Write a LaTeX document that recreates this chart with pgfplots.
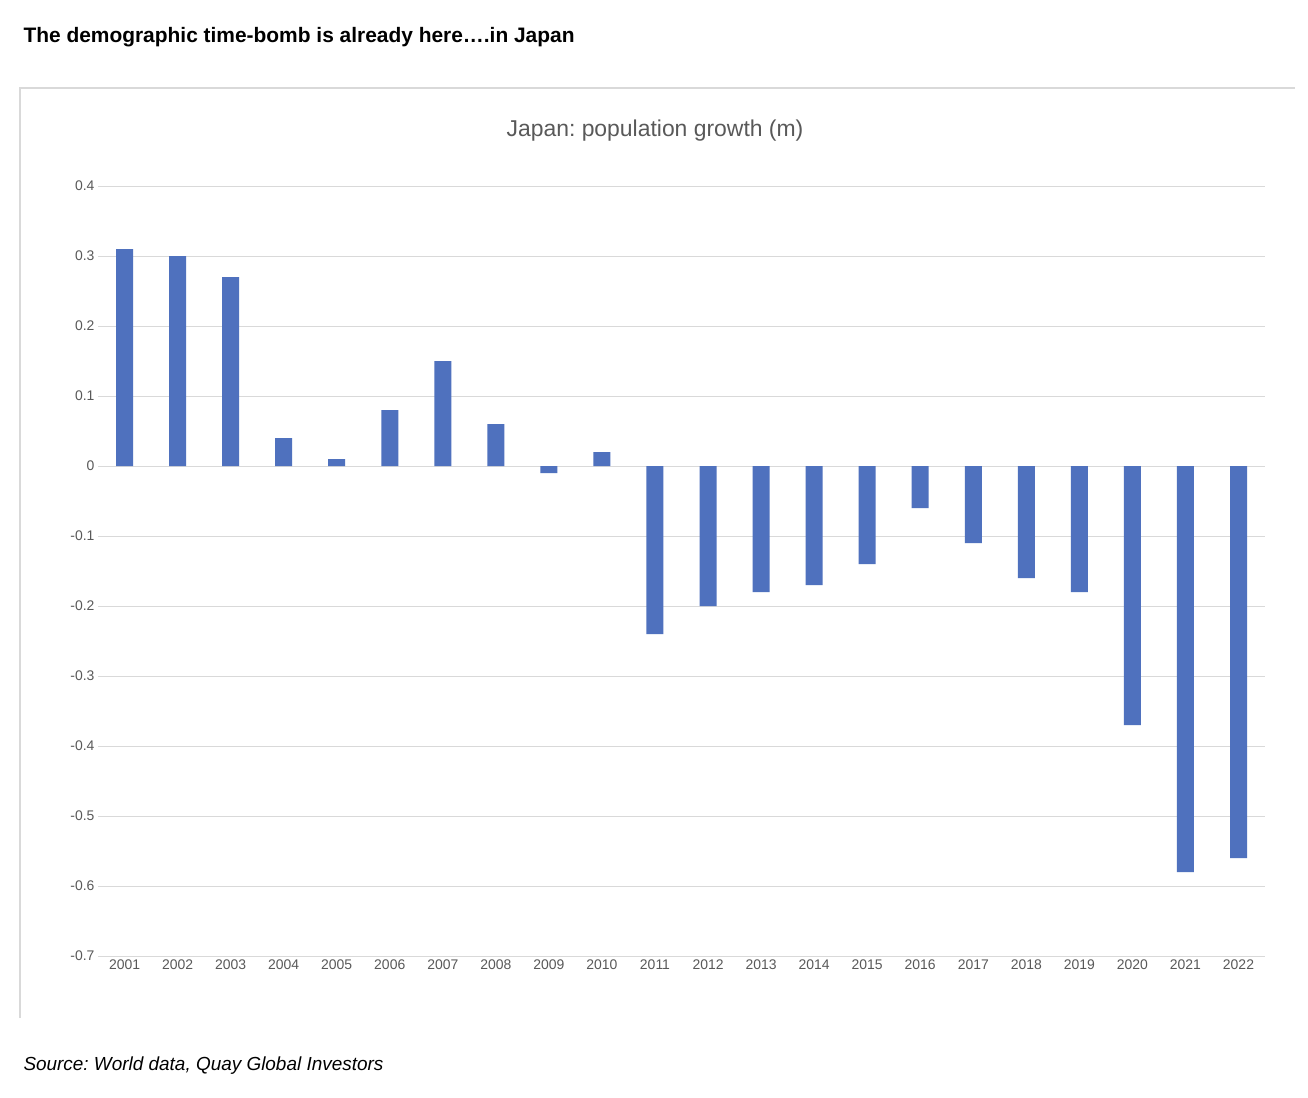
\documentclass[border=0pt]{standalone}
\usepackage{pgfplots}
\pgfplotsset{compat=1.18}
\usepackage{fontspec}
\setmainfont{Liberation Sans}
\frenchspacing
\definecolor{barblue}{HTML}{4F71BE}
\definecolor{gridgray}{HTML}{D9D9D9}
\definecolor{txtgray}{HTML}{595959}
\begin{document}
\begin{tikzpicture}[x=1bp,y=1bp]
\fill[white] (0,0) rectangle (1308,-1097);
\node[anchor=west,font=\fontsize{21}{24}\selectfont\bfseries] at (20,-37) {The demographic time-bomb is already here….in Japan};
\draw[gridgray,line width=1.2bp] (20,-1018) -- (20,-88) -- (1295,-88);
\node[font=\fontsize{23}{26}\selectfont,text=txtgray] at (655,-131) {Japan: population growth (m)};
\node[anchor=west,font=\fontsize{19}{22}\selectfont\itshape] at (20,-1066) {Source: World data, Quay Global Investors};
\begin{axis}[at={(98bp,-956bp)},anchor=south west,scale only axis,
  width=1167bp,height=770bp,
  xmin=-0.5,xmax=21.5,ymin=-0.7,ymax=0.4,
  axis line style={draw=none},
  ymajorgrids,grid style={gridgray,line width=1bp},
  ytick={-0.7,-0.6,...,0.41},
  yticklabel style={/pgf/number format/fixed,/pgf/number format/precision=1,font=\fontsize{14}{16}\selectfont,text=txtgray},
  /pgf/number format/assume math mode=true,
  xtick={0,...,21},
  xticklabels={2001,2002,2003,2004,2005,2006,2007,2008,2009,2010,2011,2012,2013,2014,2015,2016,2017,2018,2019,2020,2021,2022},
  xticklabel style={font=\fontsize{14}{16}\selectfont,text=txtgray},
  major tick length=0pt,
  ]
\addplot[ybar,bar width=17bp,fill=barblue,draw=none] coordinates {
(0,0.31)(1,0.30)(2,0.27)(3,0.04)(4,0.01)(5,0.08)(6,0.15)(7,0.06)(8,-0.01)(9,0.02)
(10,-0.24)(11,-0.20)(12,-0.18)(13,-0.17)(14,-0.14)(15,-0.06)(16,-0.11)(17,-0.16)(18,-0.18)(19,-0.37)(20,-0.58)(21,-0.56)};
\end{axis}
\end{tikzpicture}
\end{document}
